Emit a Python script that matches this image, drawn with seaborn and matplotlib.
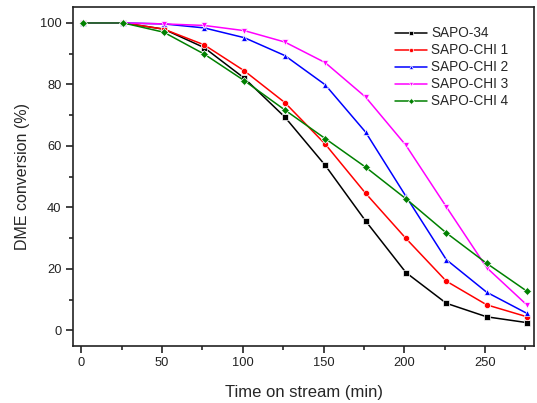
import numpy as np
import pandas as pd
import matplotlib
matplotlib.use("Agg")
import matplotlib.pyplot as plt
import seaborn as sns
from matplotlib.ticker import MultipleLocator

time_min = [1, 26, 51, 76, 101, 126, 151, 176, 201, 226, 251, 276]
sapo_34 = [100, 100, 98.0, 92.0, 82.0, 69.4, 53.7, 35.6, 18.8, 8.8, 4.4, 2.5]
sapo_chi1 = [100, 100, 98.0, 92.9, 84.4, 74.1, 60.6, 44.6, 29.9, 16.0, 8.3, 4.4]
sapo_chi2 = [100, 100, 99.7, 98.4, 95.2, 89.4, 79.9, 64.5, 43.6, 23.0, 12.4, 5.5]
sapo_chi3 = [100, 100, 99.7, 99.2, 97.5, 93.8, 87.1, 75.9, 60.2, 40.2, 20.4, 8.2]
sapo_chi4 = [100, 100, 97.0, 89.9, 81.2, 71.7, 62.4, 53.1, 42.8, 31.7, 21.8, 12.7]

series_names = ["SAPO-34", "SAPO-CHI 1", "SAPO-CHI 2", "SAPO-CHI 3", "SAPO-CHI 4"]
series_values = [sapo_34, sapo_chi1, sapo_chi2, sapo_chi3, sapo_chi4]
colors = ["black", "#ff0000", "#0000ff", "#ff00ff", "#008000"]
markers = ["s", "o", "^", "v", "D"]

rows = []
for name, vals in zip(series_names, series_values):
    for t, v in zip(time_min, vals):
        rows.append({"time": t, "conv": v, "sample": name})
df = pd.DataFrame(rows)

sns.set_theme(style="ticks")
plt.rcParams["font.family"] = ["Liberation Sans", "DejaVu Sans"]

fig = plt.figure(figsize=(5.37, 4.03), dpi=100)
ax = fig.add_axes([0.1365, 0.1422, 0.8585, 0.8412])

sns.lineplot(data=df, x="time", y="conv", hue="sample", style="sample",
             hue_order=series_names, style_order=series_names,
             palette=dict(zip(series_names, colors)),
             markers=dict(zip(series_names, markers)),
             dashes=False, markersize=4.5, markeredgewidth=0.5,
             linewidth=1.1, ax=ax)

ax.set_xlim(-5, 280.5)
ax.set_ylim(-5, 105.3)
ax.xaxis.set_major_locator(MultipleLocator(50))
ax.xaxis.set_minor_locator(MultipleLocator(25))
ax.yaxis.set_major_locator(MultipleLocator(20))
ax.yaxis.set_minor_locator(MultipleLocator(10))
ax.tick_params(which="major", direction="out", length=5, width=1.2, labelsize=9.3, colors="#222222")
ax.tick_params(which="minor", direction="out", length=3, width=1.2)
for s in ax.spines.values():
    s.set_linewidth(1.2)
    s.set_color("#222222")

ax.set_xlabel("Time on stream (min)", fontsize=12, labelpad=11)
ax.set_ylabel("DME conversion (%)", fontsize=11.5, labelpad=7)

handles, labels = ax.get_legend_handles_labels()
for h in handles:
    h.set_markersize(3)
leg = ax.legend(handles, labels, loc="upper left", bbox_to_anchor=(0.685, 0.958),
                frameon=False, fontsize=9.8, handlelength=2.4, handletextpad=0.3,
                labelspacing=0.22, borderaxespad=0)

fig.savefig("out.png", dpi=100)
